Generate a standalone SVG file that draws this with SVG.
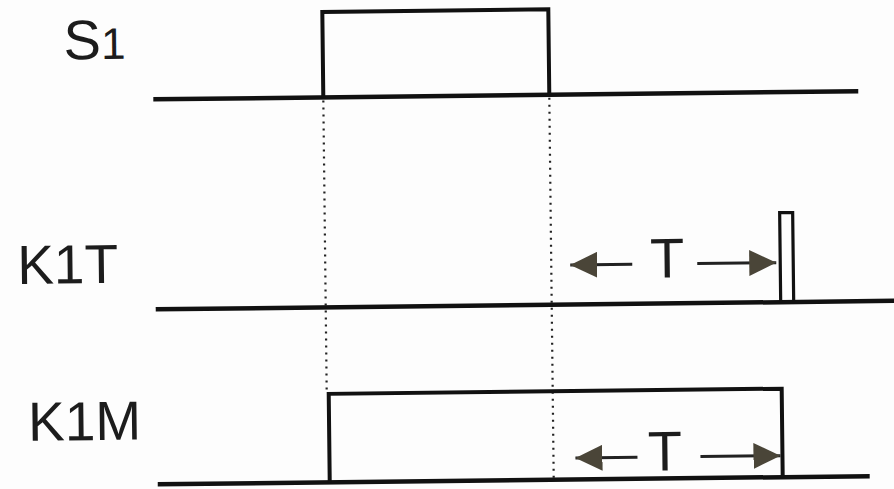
<svg xmlns="http://www.w3.org/2000/svg" width="894" height="489" viewBox="0 0 894 489">
  <defs>
    <style>
      .lbl { font-family: "Liberation Sans", Arial, sans-serif; fill: #1c1c1c; }
      .base { stroke: #111; stroke-width: 4.5; fill: none; stroke-linecap: butt; }
      .wave { stroke: #111; stroke-width: 4; fill: none; stroke-linejoin: miter; }
      .dots { stroke: #222; stroke-width: 2.2; stroke-dasharray: 2 5; fill: none; }
      .shaft { stroke: #222; stroke-width: 3; fill: none; }
    </style>
    <marker id="head" viewBox="0 0 27 26" refX="27" refY="13" markerWidth="27" markerHeight="26" markerUnits="userSpaceOnUse" orient="auto">
      <path d="M0,0 L27,13 L0,26 Z" fill="#4a4538"/>
    </marker>
  </defs>
  <rect width="894" height="489" fill="#fdfdfd"/>

  <!-- whole chart sits at a slight tilt -->
  <g transform="rotate(-0.66 447 244)">
    <!-- timing guides -->
    <g id="connectors">
      <line class="dots" x1="325" y1="99" x2="325" y2="391"/>
      <line class="dots" x1="551" y1="99" x2="551" y2="479"/>
      <line class="shaft" x1="632" y1="266.5" x2="570" y2="266.5" marker-end="url(#head)"/>
      <line class="shaft" x1="697" y1="266.5" x2="776" y2="266.5" marker-end="url(#head)"/>
      <line class="shaft" x1="635" y1="459.5" x2="573" y2="459.5" marker-end="url(#head)"/>
      <line class="shaft" x1="698" y1="459.5" x2="778" y2="459.5" marker-end="url(#head)"/>
    </g>

    <g id="s1">
      <text class="lbl" x="66" y="55" font-size="56">S<tspan font-size="44">1</tspan></text>
      <line class="base" x1="155" y1="96" x2="860" y2="96"/>
      <polyline class="wave" points="325,96 325,10.5 551,10.5 551,96"/>
    </g>

    <g id="k1t">
      <text class="lbl" x="17" y="279" font-size="55">K1T</text>
      <line class="base" x1="155" y1="306" x2="895" y2="306"/>
      <polyline class="wave" points="780,306 780,216.5 793,216.5 793,306" style="stroke-width:3.2"/>
      <text class="lbl" x="667" y="280" font-size="56" text-anchor="middle">T</text>
    </g>

    <g id="k1m">
      <text class="lbl" x="26" y="436" font-size="55">K1M</text>
      <line class="base" x1="155" y1="481" x2="867" y2="481"/>
      <polyline class="wave" points="327,481 327,392.5 780,392.5 780,481"/>
      <text class="lbl" x="662.5" y="473" font-size="56" text-anchor="middle">T</text>
    </g>
  </g>
</svg>
